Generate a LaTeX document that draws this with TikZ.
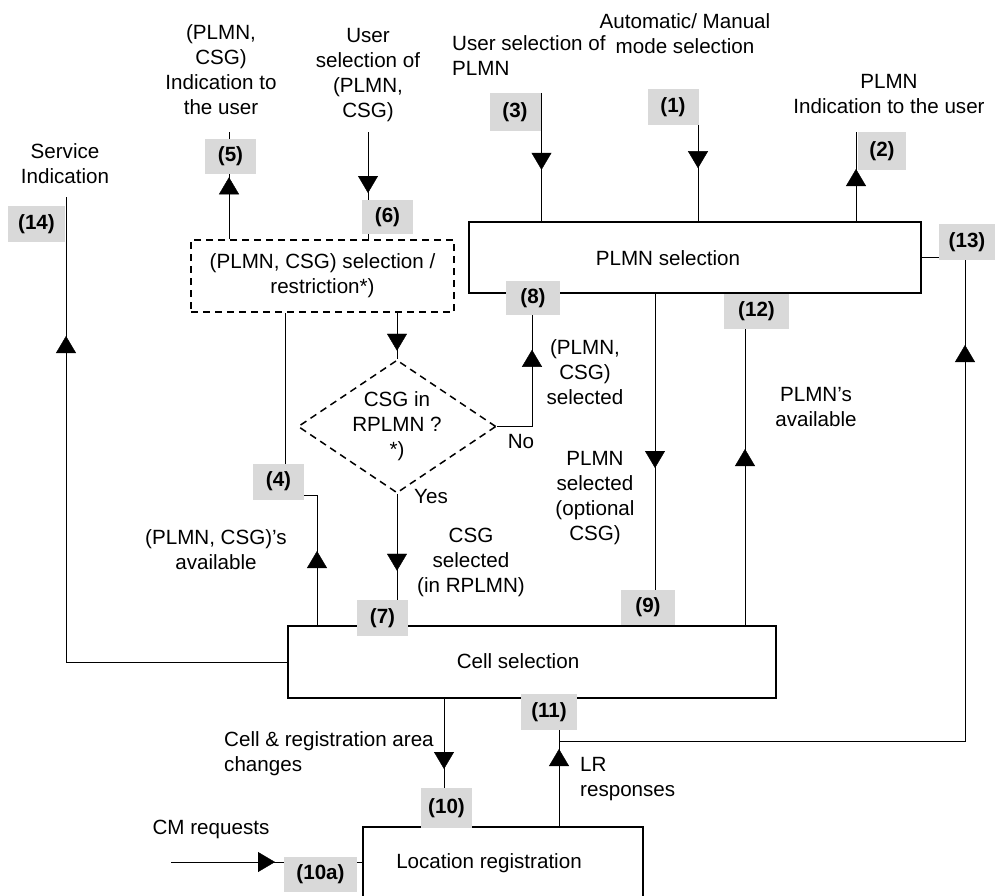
\documentclass[tikz,border=0pt]{standalone}
\usepackage{fontspec}
\setmainfont{Liberation Sans}
\usetikzlibrary{arrows.meta,shapes.geometric,decorations.markings,backgrounds}
\definecolor{tagGrey}{RGB}{217,217,217}
\newcommand{\diagfont}{\fontsize{20.6}{25}\selectfont}
\tikzset{
  procbox/.style={draw, line width=2pt, inner sep=0pt},
  choicebox/.style={draw, line width=1.5pt, dash pattern=on 7pt off 5pt, inner sep=0pt, align=center},
  tag/.style={fill=tagGrey, font=\diagfont\bfseries, minimum width=51pt, minimum height=36pt, inner sep=0pt},
  note/.style={align=center, inner sep=0pt},
  flow/.style={line width=2pt},
  tipat/.style={postaction={decorate}, decoration={markings,
    mark=at position #1 with {\arrow{Triangle[width=20pt,length=17pt]}}}}
}
\begin{document}
\begin{tikzpicture}[x=1pt, y=-1pt, font=\diagfont]
  \useasboundingbox (0,0) rectangle (995,895);
  \clip (0,0) rectangle (995,895);

  % main blocks
  \node[procbox, minimum width=452pt, minimum height=71pt] (plmn) at (695,257.5) {};
  \node[procbox, minimum width=488pt, minimum height=72pt] (cell) at (532,662) {};
  \node[procbox, minimum width=280pt, minimum height=100pt] (locreg) at (503,877) {};
  \node[choicebox, minimum width=263pt, minimum height=72pt] (restr) at (322.5,276) {(PLMN, CSG) selection /\\restriction*)};
  \node[choicebox, shape=diamond, aspect=1.49, minimum width=198pt, minimum height=133pt] (csg) at (397,426.5) {CSG in\\RPLMN ?\\*)};
  \node[note] (plmntext) at (668,258) {PLMN selection};
  \node[note] (celltext) at (518,661) {Cell selection};
  \node[note] (loctext) at (489,863) {Location registration};

  % numbered tags
  \node[tag] (tag1) at (673,107) {(1)};
  \node[tag, minimum width=48pt, minimum height=38pt] (tag2) at (882,151) {(2)};
  \node[tag, minimum height=38pt] (tag3) at (515,112) {(3)};
  \node[tag] (tag4) at (278.5,481.5) {(4)};
  \node[tag, minimum height=35pt] (tag5) at (230.5,156.5) {(5)};
  \node[tag, minimum height=34pt] (tag6) at (387.5,217) {(6)};
  \node[tag] (tag7) at (382.5,618) {(7)};
  \node[tag, minimum width=54pt, minimum height=34pt] (tag8) at (533,298) {(8)};
  \node[tag, minimum width=54pt, minimum height=35pt] (tag9) at (648,607.5) {(9)};
  \node[tag, minimum height=40pt] (tag10) at (446.5,808) {(10)};
  \node[tag, minimum width=73pt, minimum height=35pt] (tag10a) at (320.5,874.5) {(10a)};
  \node[tag, minimum width=56pt] (tag11) at (549,712) {(11)};
  \node[tag, minimum width=65pt, minimum height=35pt] (tag12) at (756.5,311.5) {(12)};
  \node[tag, minimum width=56pt] (tag13) at (967,242) {(13)};
  \node[tag, minimum width=57pt] (tag14) at (36.5,224) {(14)};

  % labels
  \node[note] (t5) at (221,70) {(PLMN,\\CSG)\\Indication to\\the user};
  \node[note] (t6) at (368,75.5) {User\\selection of\\(PLMN,\\CSG)};
  \node[note, anchor=west, align=left] (t3) at (452,56) {User selection of\\PLMN};
  \node[note] (t1) at (685,33.5) {Automatic/ Manual\\mode selection};
  \node[note] (t2) at (889,94.5) {PLMN\\Indication to the user};
  \node[note] (t14) at (65,163.5) {Service\\Indication};
  \node[note] (t8) at (585,372.5) {(PLMN,\\CSG)\\selected};
  \node[note] (t9) at (595,498.5) {PLMN\\selected\\(optional\\CSG)};
  \node[note] (t12) at (816,407.5) {PLMN’s\\available};
  \node[note] (t4) at (216,550) {(PLMN, CSG)’s\\available};
  \node[note] (t7) at (471,562.5) {CSG\\selected\\(in RPLMN)};
  \node[note] (yes) at (431,497) {Yes};
  \node[note] (no) at (521,442) {No};
  \node[note, anchor=west, align=left] (t10) at (224,754) {Cell \& registration area\\changes};
  \node[note, anchor=west, align=left] (t11) at (580,779) {LR\\responses};
  \node[note] (t10a) at (211,829) {CM requests};

  % line positions and free ends
  \coordinate (x1) at (698,0);
  \coordinate (x2) at (856,0);
  \coordinate (x3) at (541.5,0);
  \coordinate (x4) at (317,0);
  \coordinate (x4b) at (285,0);
  \coordinate (x5) at (229,0);
  \coordinate (x6) at (368,0);
  \coordinate (x8) at (532,0);
  \coordinate (x9) at (655,0);
  \coordinate (x10) at (444,0);
  \coordinate (x11) at (559,0);
  \coordinate (x12) at (745,0);
  \coordinate (x13) at (965,0);
  \coordinate (sel5) at (229,132);
  \coordinate (sel6) at (368,132);
  \coordinate (svc) at (66,197);
  \coordinate (cmreq) at (171,862);
  \coordinate (j4) at (317,495);
  \coordinate (lrjoin) at (559,741);

  \begin{scope}[on background layer, flow]
    \draw[tipat=43pt] (x1 |- tag1.south) -- (x1 |- plmn.north);
    \draw[tipat=52pt] (x2 |- plmn.north) -- (x2 |- tag2.north);
    \draw[tipat=77pt] (x3 |- tag3.north) -- (x3 |- plmn.north);
    \draw[tipat=62pt] (x5 |- restr.north) -- (sel5);
    \draw[tipat=61pt] (sel6) -- (x6 |- restr.north);
    \draw[tipat=38pt] (csg.north |- restr.south) -- (csg.north);
    \draw[tipat=77pt] (csg.south) -- (csg.south |- cell.north);
    \draw[tipat=112pt] (csg.east) -| (x8 |- plmn.south);
    \draw[tipat=74pt] (x4 |- cell.north) -- (j4) -| (x4b |- restr.south);
    \draw[tipat=174pt] (x9 |- plmn.south) -- (x9 |- cell.north);
    \draw[tipat=176pt] (x12 |- cell.north) -- (x12 |- plmn.south);
    \draw[tipat=70pt] (x10 |- cell.south) -- (x10 |- locreg.north);
    \draw[tipat=77pt] (x11 |- locreg.north) -- (x11 |- cell.south);
    \draw[tipat=802pt] (lrjoin) -| (x13 |- plmn.east) -- (plmn.east);
    \draw[tipat=547pt] (cell.west) -| (svc);
    \draw[tipat=104pt] (cmreq) -- (cmreq -| locreg.west);
  \end{scope}
\end{tikzpicture}
\end{document}
